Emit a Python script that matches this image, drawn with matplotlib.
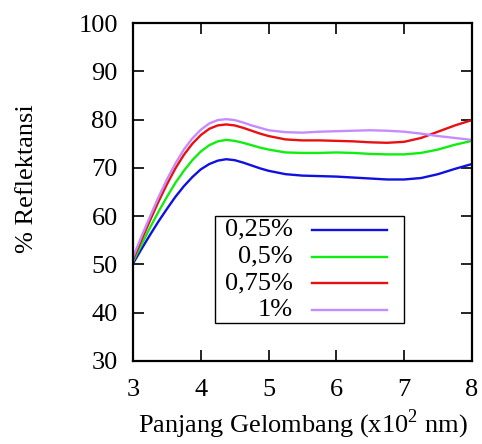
import matplotlib
matplotlib.use('Agg')
import matplotlib.pyplot as plt
from matplotlib.patches import Rectangle

# wavelength (x10^2 nm)
wl = [3.0, 3.125, 3.25, 3.375, 3.5, 3.625, 3.75, 3.875, 4.0, 4.125, 4.25,
      4.375, 4.5, 4.625, 4.75, 4.875, 5.0, 5.25, 5.5, 5.75, 6.0, 6.25,
      6.5, 6.75, 7.0, 7.25, 7.5, 7.75, 8.0]

r_025 = [50.2, 53.2, 56.1, 58.9, 61.5, 64.0, 66.2, 68.1, 69.7, 70.8, 71.5,
         71.8, 71.6, 71.1, 70.5, 69.9, 69.4, 68.7, 68.4, 68.3, 68.2, 68.0,
         67.8, 67.6, 67.6, 67.9, 68.7, 69.8, 70.8]
r_05 = [50.6, 54.1, 57.6, 60.9, 64.0, 66.9, 69.4, 71.6, 73.4, 74.7, 75.5,
        75.8, 75.6, 75.2, 74.7, 74.2, 73.8, 73.2, 73.1, 73.1, 73.2, 73.1,
        72.9, 72.8, 72.8, 73.1, 73.8, 74.8, 75.6]
r_075 = [51.0, 55.1, 59.1, 63.0, 66.6, 69.9, 72.7, 75.0, 76.8, 78.1, 78.8,
         79.0, 78.8, 78.3, 77.7, 77.1, 76.6, 75.9, 75.7, 75.7, 75.6, 75.5,
         75.3, 75.2, 75.4, 76.2, 77.5, 78.8, 79.9]
r_1 = [51.5, 55.8, 59.9, 63.9, 67.6, 70.9, 73.8, 76.1, 77.9, 79.2, 79.9,
       80.1, 79.9, 79.4, 78.8, 78.3, 77.8, 77.4, 77.3, 77.5, 77.6, 77.7,
       77.8, 77.7, 77.5, 77.1, 76.6, 76.2, 75.8]

labels = ['0,25%', '0,5%', '0,75%', '1%']
colors = ['#1010e0', '#10ee10', '#e81010', '#c48cff']

plt.rcParams['font.family'] = 'Liberation Serif'
plt.rcParams['mathtext.fontset'] = 'custom'
plt.rcParams['mathtext.rm'] = 'Liberation Serif'
plt.rcParams['font.size'] = 19

fig = plt.figure(figsize=(4.82, 4.44), dpi=100)
ax = fig.add_axes([0.276, 0.187, 0.703, 0.761])

for ys, c in zip([r_025, r_05, r_075, r_1], colors):
    ax.plot(wl, ys, color=c, lw=1.7, solid_joinstyle='round')

ax.set_xlim(3, 8)
ax.set_ylim(30, 100)
ax.set_xticks([3, 4, 5, 6, 7, 8])
ax.set_yticks(range(30, 101, 10))
ax.tick_params(direction='in', length=8, width=1.2, top=True, right=True)
ax.tick_params(axis='x', pad=13)
ax.tick_params(axis='y', pad=11)
for s in ax.spines.values():
    s.set_linewidth(1.6)

ax.set_xlabel('Panjang Gelombang (x10$^{\\mathrm{2}}$ nm)', labelpad=5)
ax.set_ylabel('% Reflektansi')
ax.yaxis.set_label_coords(-0.28, 0.54)

# gnuplot-style key: right-aligned labels, samples on the right
ax.add_patch(Rectangle((0.242, 0.112), 0.557, 0.317, transform=ax.transAxes,
                       fill=False, edgecolor='black', lw=1.0, zorder=3))
rows = [0.388, 0.309, 0.230, 0.151]
for lab, c, yy in zip(labels, colors, rows):
    ax.text(0.472, yy, lab, transform=ax.transAxes, ha='right', va='center')
    ax.plot([0.528, 0.749], [yy, yy], transform=ax.transAxes, color=c, lw=1.7)

fig.savefig('out.png', dpi=100)
